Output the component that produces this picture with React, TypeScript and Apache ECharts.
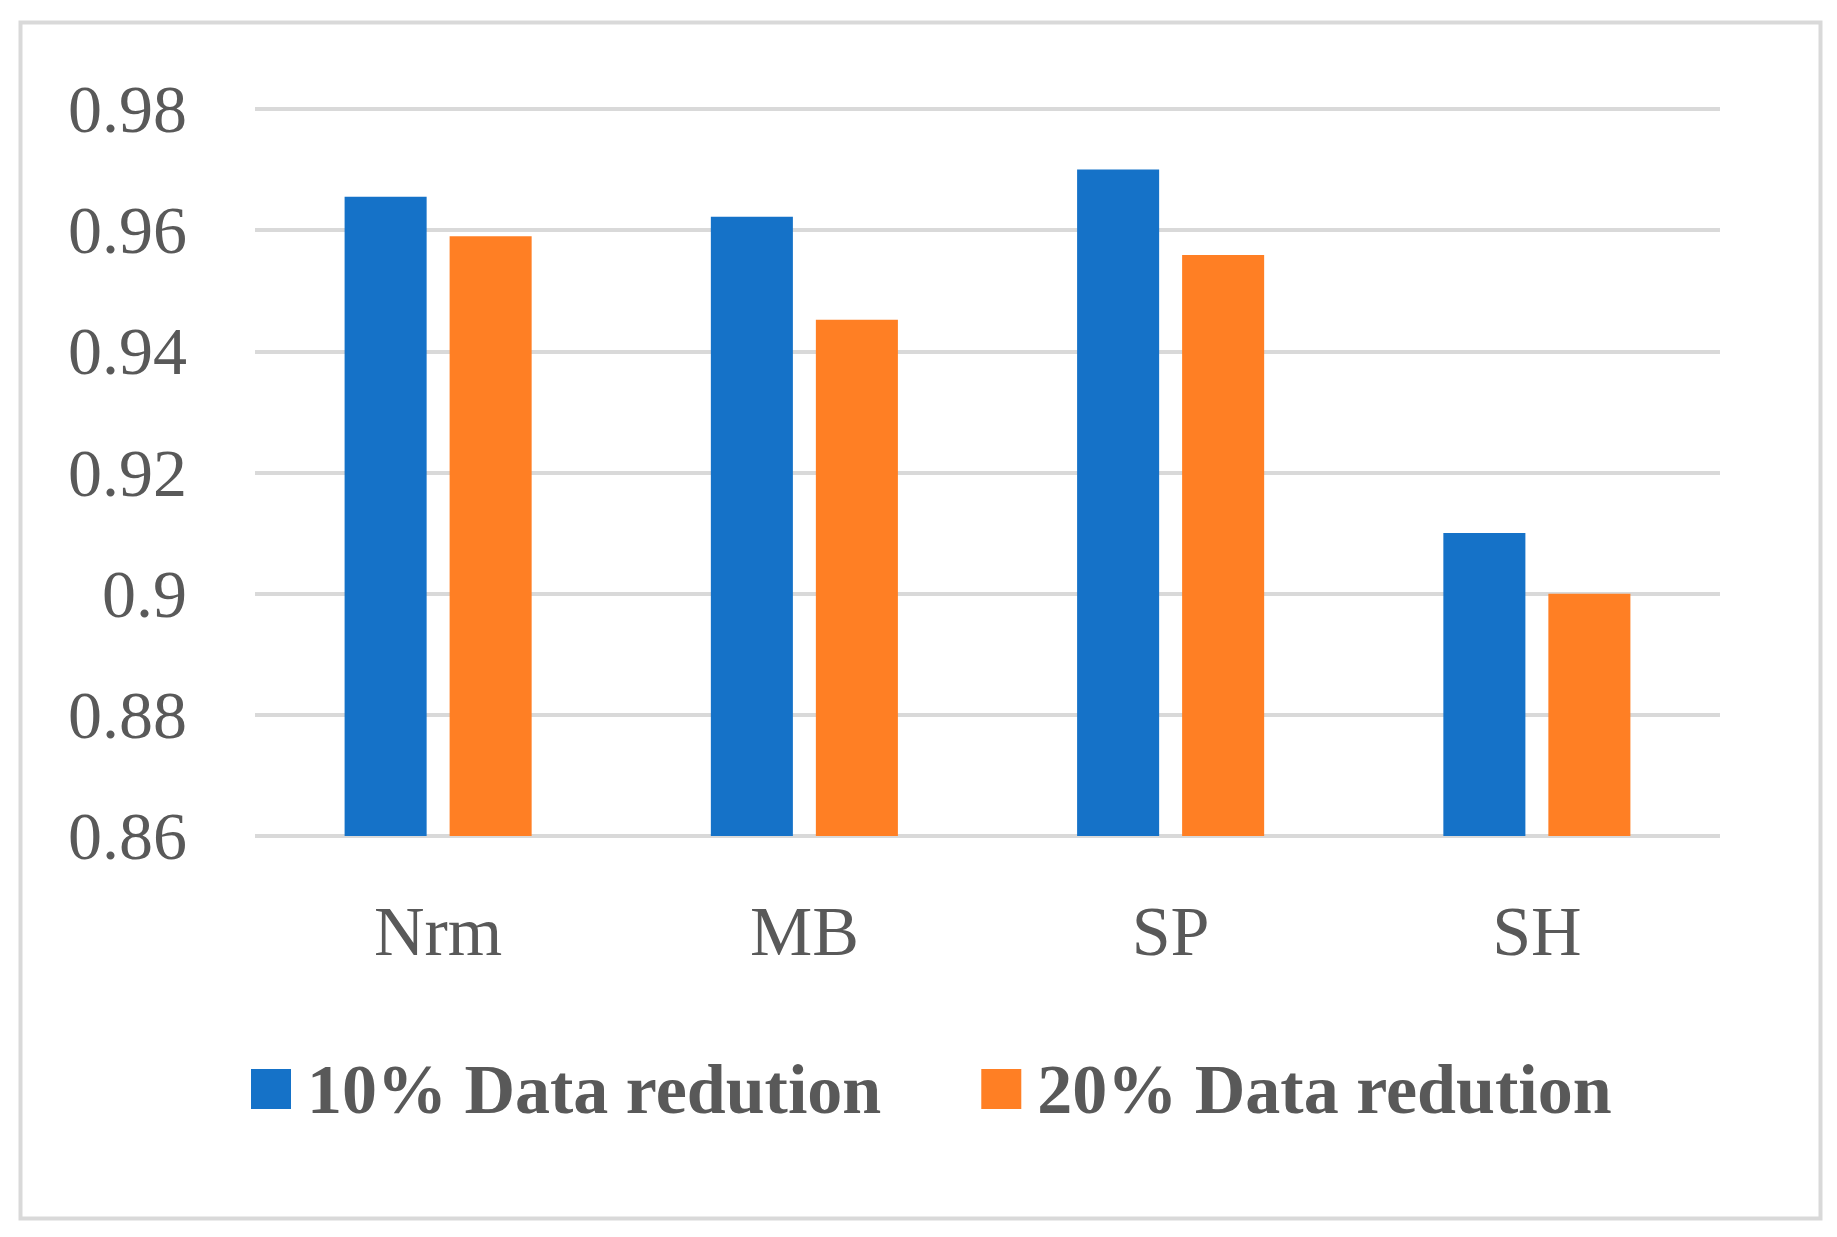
import React, { useEffect, useRef } from "react";
import * as echarts from "echarts";

const categories = ["Nrm", "MB", "SP", "SH"];
const seriesNames = ["10% Data redution", "20% Data redution"];
const values10 = [0.9655, 0.9622, 0.97, 0.91];
const values20 = [0.959, 0.9452, 0.9559, 0.9];
const colors = ["#1572C8", "#FF7F24"];

const FONT = "'Liberation Serif', 'Times New Roman', serif";

export default function App() {
  const ref = useRef<HTMLDivElement>(null);
  useEffect(() => {
    if (!ref.current) return;
    const chart = echarts.init(ref.current, undefined, { renderer: "svg" });
    chart.setOption({
      animation: false,
      backgroundColor: "#ffffff",
      textStyle: { fontFamily: FONT },
      graphic: [
        {
          type: "rect",
          left: 18,
          top: 20,
          shape: { width: 1800, height: 1196 },
          style: { fill: "none", stroke: "#D9D9D9", lineWidth: 4 },
          silent: true,
        },
      ],
      grid: { left: 255, right: 117, top: 109, bottom: 401 },
      legend: {
        data: seriesNames,
        left: 246,
        top: 1049,
        icon: "rect",
        itemWidth: 40,
        itemHeight: 40,
        itemGap: 100,
        textStyle: {
          fontFamily: FONT,
          fontSize: 70,
          fontWeight: "bold",
          color: "#595959",
          padding: [0, 0, 0, 11],
        },
      },
      xAxis: {
        type: "category",
        data: categories,
        axisLine: { show: false },
        axisTick: { show: false },
        axisLabel: { fontFamily: FONT, fontSize: 70, color: "#595959", margin: 60 },
      },
      yAxis: {
        type: "value",
        min: 0.86,
        max: 0.98,
        interval: 0.02,
        axisLine: { show: false },
        axisTick: { show: false },
        axisLabel: { fontFamily: FONT, fontSize: 68, color: "#595959", margin: 68 },
        splitLine: { lineStyle: { color: "#D9D9D9", width: 4 } },
      },
      series: [
        {
          name: seriesNames[0],
          type: "bar",
          data: values10,
          itemStyle: { color: colors[0] },
          barWidth: "22.4%",
          barGap: "28%",
        },
        {
          name: seriesNames[1],
          type: "bar",
          data: values20,
          itemStyle: { color: colors[1] },
          barWidth: "22.4%",
          barGap: "28%",
        },
      ],
    });
    return () => chart.dispose();
  }, []);
  return (
    <div
      ref={ref}
      style={{ position: "absolute", left: 0, top: 0, width: 1837, height: 1237 }}
    />
  );
}
